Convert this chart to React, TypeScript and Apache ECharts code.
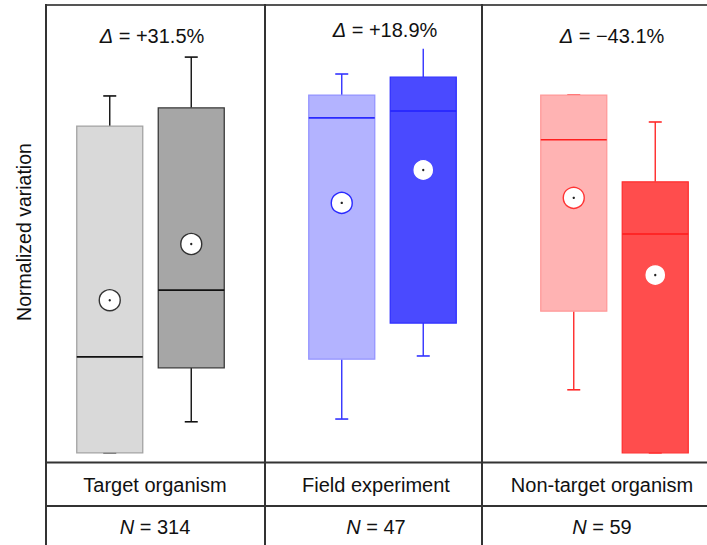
import React, { useEffect, useRef } from "react";
import * as echarts from "echarts";

// ---- data ----
const groups = ["Target organism", "Field experiment", "Non-target organism"];
const sampleSizes = [314, 47, 59];
const deltas = ["+31.5%", "+18.9%", "\u221243.1%"];
const conditions = ["Before", "After"];
// each box: [whiskerLow, Q1, median, Q3, whiskerHigh]
const targetBoxes = [
  [2.0, 2.0, 23.0, 73.5, 80.1],
  [8.8, 20.6, 37.6, 77.5, 88.6],
];
const fieldBoxes = [
  [9.4, 22.5, 75.3, 80.3, 84.9],
  [23.2, 30.4, 76.8, 84.2, 90.4],
];
const nonTargetBoxes = [
  [15.8, 33.0, 70.5, 80.3, 80.3],
  [2.0, 2.0, 49.9, 61.3, 74.4],
];
const targetMeans = [35.4, 47.7];
const fieldMeans = [56.7, 63.9];
const nonTargetMeans = [57.8, 40.9];
const upperCaps = [
  [true, true],
  [true, false],
  [true, true],
];

const allBoxes = [targetBoxes, fieldBoxes, nonTargetBoxes];
const allMeans = [targetMeans, fieldMeans, nonTargetMeans];

// ---- styles ----
const FONT = "'Liberation Sans', Arial, Helvetica, sans-serif";
const palettes = [
  [
    { fill: "#d9d9d9", edge: "#a3a3a3", median: "#111111", whisker: "#111111", ring: "#333333" },
    { fill: "#a6a6a6", edge: "#3a3a3a", median: "#111111", whisker: "#111111", ring: "#333333" },
  ],
  [
    { fill: "#b3b3ff", edge: "#9494ff", median: "#2a2aff", whisker: "#3333ff", ring: "#2a2aff" },
    { fill: "#4a4aff", edge: "#2f2fff", median: "#2020ff", whisker: "#3333ff", ring: "#4a4aff" },
  ],
  [
    { fill: "#ffb3b3", edge: "#ff9a9a", median: "#ff1f1f", whisker: "#ff2a2a", ring: "#ff3333" },
    { fill: "#ff4d4d", edge: "#ff3030", median: "#ff1a1a", whisker: "#ff2a2a", ring: "#ff4d4d" },
  ],
];
const gridLefts = [69, 301, 533];
const gridWidth = 163;
const panelCenters = [155, 376, 602];
const deltaXs = [152, 385, 612];
const deltaYs = [36, 30, 36];
const BOX_W = 66;
const CAP_W = 13;

export default function App() {
  const ref = useRef<HTMLDivElement>(null);
  useEffect(() => {
    if (!ref.current) return;
    const chart = echarts.init(ref.current, undefined, { renderer: "svg" });

    const grids = gridLefts.map((l) => ({ left: l, width: gridWidth, top: 5, height: 457 }));
    const xAxes = gridLefts.map((_, i) => ({
      type: "category" as const,
      gridIndex: i,
      data: conditions,
      show: false,
    }));
    const yAxes = gridLefts.map((_, i) => ({
      type: "value" as const,
      gridIndex: i,
      min: 0,
      max: 100,
      show: false,
    }));

    const series = allBoxes.map((boxes, p) => ({
      type: "custom" as const,
      xAxisIndex: p,
      yAxisIndex: p,
      data: boxes.map((b, k) => [k, ...b, allMeans[p][k]]),
      renderItem: (params: any, api: any) => {
        const k = api.value(0);
        const pal = palettes[p][k];
        const v = [1, 2, 3, 4, 5, 6].map((d) => api.value(d));
        const x = api.coord([k, v[0]])[0];
        const y = v.map((val) => api.coord([k, val])[1]);
        const [yLo, yQ1, yMed, yQ3, yHi, yMean] = y;
        const children: any[] = [
          { type: "line", shape: { x1: x, y1: yLo, x2: x, y2: yQ1 }, style: { stroke: pal.whisker, lineWidth: 1.4 } },
          { type: "line", shape: { x1: x, y1: yQ3, x2: x, y2: yHi }, style: { stroke: pal.whisker, lineWidth: 1.4 } },
          { type: "line", shape: { x1: x - CAP_W / 2, y1: yLo, x2: x + CAP_W / 2, y2: yLo }, style: { stroke: pal.whisker, lineWidth: 1.6 } },
          {
            type: "rect",
            shape: { x: x - BOX_W / 2, y: yQ3, width: BOX_W, height: yQ1 - yQ3 },
            style: { fill: pal.fill, stroke: pal.edge, lineWidth: 1.3 },
          },
          { type: "line", shape: { x1: x - BOX_W / 2, y1: yMed, x2: x + BOX_W / 2, y2: yMed }, style: { stroke: pal.median, lineWidth: 1.6 } },
          { type: "circle", shape: { cx: x, cy: yMean, r: 10.5 }, style: { fill: "#ffffff", stroke: pal.ring, lineWidth: 1.4 } },
          { type: "circle", shape: { cx: x, cy: yMean, r: 1.2 }, style: { fill: "#222222" } },
        ];
        if (upperCaps[p][k]) {
          children.splice(3, 0, {
            type: "line",
            shape: { x1: x - CAP_W / 2, y1: yHi, x2: x + CAP_W / 2, y2: yHi },
            style: { stroke: pal.whisker, lineWidth: 1.6 },
          });
        }
        return { type: "group", children };
      },
    }));

    const lineStyle = { stroke: "#333333", lineWidth: 2 };
    const graphic: any[] = [
      { type: "line", shape: { x1: 46, y1: 5, x2: 707, y2: 5 }, style: { stroke: "#555555", lineWidth: 2 } },
      { type: "line", shape: { x1: 46, y1: 4, x2: 46, y2: 545 }, style: lineStyle },
      { type: "line", shape: { x1: 265, y1: 4, x2: 265, y2: 545 }, style: lineStyle },
      { type: "line", shape: { x1: 482, y1: 4, x2: 482, y2: 545 }, style: lineStyle },
      { type: "line", shape: { x1: 46, y1: 462.5, x2: 707, y2: 462.5 }, style: lineStyle },
      { type: "line", shape: { x1: 46, y1: 506, x2: 707, y2: 506 }, style: lineStyle },
      {
        type: "text",
        x: 24,
        y: 232,
        rotation: Math.PI / 2,
        style: {
          text: "Normalized variation",
          font: `19.5px ${FONT}`,
          fill: "#111111",
          align: "center",
          verticalAlign: "middle",
        },
      },
    ];
    groups.forEach((g, i) => {
      graphic.push({
        type: "text",
        x: panelCenters[i],
        y: 485,
        style: { text: g, font: `20px ${FONT}`, fill: "#111111", align: "center", verticalAlign: "middle" },
      });
      graphic.push({
        type: "text",
        x: panelCenters[i],
        y: 527,
        style: {
          text: `{i|N} = ${sampleSizes[i]}`,
          font: `20px ${FONT}`,
          fill: "#111111",
          align: "center",
          verticalAlign: "middle",
          rich: { i: { fontStyle: "italic", fontSize: 20, fontFamily: FONT, fill: "#111111" } },
        },
      });
      graphic.push({
        type: "text",
        x: deltaXs[i],
        y: deltaYs[i],
        style: {
          text: `{i|\u0394} = ${deltas[i]}`,
          font: `20px ${FONT}`,
          fill: "#111111",
          align: "center",
          verticalAlign: "middle",
          rich: { i: { fontStyle: "italic", fontSize: 20, fontFamily: FONT, fill: "#111111" } },
        },
      });
    });

    chart.setOption({
      animation: false,
      grid: grids,
      xAxis: xAxes,
      yAxis: yAxes,
      series,
      graphic,
    });
    return () => chart.dispose();
  }, []);
  return (
    <div
      ref={ref}
      style={{ position: "fixed", left: 0, top: 0, width: 707, height: 545, background: "#ffffff" }}
    />
  );
}
